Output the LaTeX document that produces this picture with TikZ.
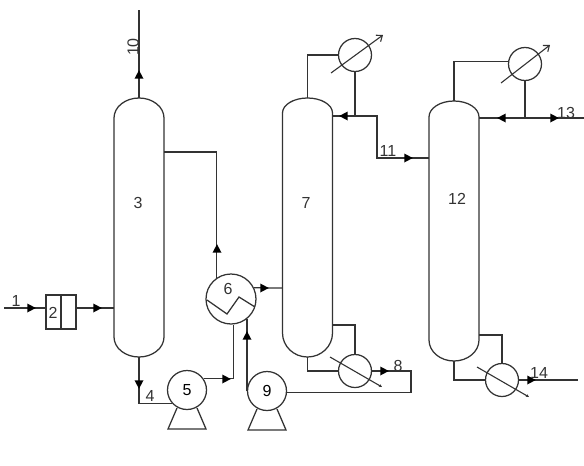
\documentclass[tikz,border=0pt]{standalone}
\usepackage{fontspec}
\setmainfont{Liberation Sans}
\usetikzlibrary{arrows.meta,shapes.geometric}
\definecolor{cL}{HTML}{333333}
\tikzset{
  pipe/.style={draw=cL,line width=1.25pt},
  vessel/.style={circle,draw=cL,line width=1.25pt,fill=none,inner sep=0pt,minimum size=#1,font=\numfont},
  flowtip/.style={isosceles triangle,isosceles triangle stretches=true,fill=black,inner sep=0pt,
                  minimum width=9pt,minimum height=8.5pt},
  tag/.style={inner sep=0pt,text=cL,font=\numfont},
  slash/.style={pipe,line width=1.1pt,-{Straight Barb[length=5pt,width=8pt]}},
  slashdown/.style={pipe,line width=1.1pt,-{Stealth[length=3pt,width=3pt]}},
}
\newcommand\numfont{\fontsize{16}{18}\selectfont}
\begin{document}
\begin{tikzpicture}[x=1pt,y=-1pt]
  \useasboundingbox (0,0) rectangle (584,466);
  % columns
  \foreach \nm/\xc/\yt/\yb/\ys/\yd in {c3/139/98/357/118/337,c7/307.5/98/357/113/333,c12/454/101/361/117/340}{
     \draw[pipe] (\xc-25,\ys) arc[start angle=180,end angle=360,x radius=25,y radius=\ys-\yt]
        -- (\xc+25,\yd) arc[start angle=0,end angle=180,x radius=25,y radius=\yb-\yd] -- cycle;
     \coordinate (\nm n) at (\xc,\yt);
     \coordinate (\nm s) at (\xc,\yb);
  }
  % exchangers and pumps
  \node[vessel=50pt] (hx6) at (231,299){};
  \node[vessel=33pt] (cond7) at (355,55){};
  \node[vessel=33pt] (cond12) at (525,64){};
  \node[vessel=33pt] (reb7) at (355,371){};
  \node[vessel=33pt] (reb12) at (502,380){};
  \node[vessel=39pt] (p5) at (187,390){5};
  \node[vessel=39pt] (p9) at (267,391){9};
  \foreach \p in {p5,p9}{
     \draw[pipe] (\p) ++(-10,18) -- ++(-9,21) -- ++(38,0) -- ++(-9,-21);
  }
  \draw[pipe] (207,300) -- (227,314) -- (239,297) -- (255,307);
  \draw[slash] (cond7) ++(-24,18) -- ++(52,-38);
  \draw[slash] (cond12) ++(-24,19) -- ++(49,-38);
  \draw[slashdown] (reb7) ++(-25,-14) -- ++(52,30);
  \draw[slashdown] (reb12) ++(-25,-13) -- ++(52,30);
  % mixer
  \node[draw=cL,line width=1.25pt,inner sep=0pt,minimum width=30pt,minimum height=34pt] (mix2) at (61,312){};
  \draw[pipe] (mix2.north) -- (mix2.south);
  % free ends and junctions
  \coordinate (in1) at (4,308);
  \coordinate (out10) at (139,10);
  \coordinate (out13) at (584,118);
  \coordinate (out14) at (578,380);
  \coordinate (c3feed) at (114,308);
  \coordinate (c3side) at (164,152);
  \coordinate (c7feed) at (282,288);
  \coordinate (c7back) at (333,116);
  \coordinate (c7low) at (333,325);
  \coordinate (c12feed) at (429,158);
  \coordinate (c12back) at (479,118);
  \coordinate (c12low) at (479,335);
  \coordinate (j11) at (377,116);
  \coordinate (j8) at (411,371);
  % streams
  \draw[pipe] (in1) -- (mix2.west |- in1);
  \draw[pipe] (mix2.east |- c3feed) -- (c3feed);
  \draw[pipe] (c3n) -- (out10);
  \draw[pipe] (c3s) |- (p5.222);
  \draw[pipe] (p5.34) -| (hx6.-85);
  \draw[pipe] (c3side) -| (hx6.124);
  \draw[pipe] (hx6.26) -- (c7feed);
  \draw[pipe] (p9.west) -- (p9.west |- hx6.-53);
  \draw[pipe] (p9.-5) -| (j8) -- (reb7.east);
  \draw[pipe] (c7low) -| (reb7.north);
  \draw[pipe] (c7s) |- (reb7.west);
  \draw[pipe] (c7back) -- (j11) |- (c12feed);
  \draw[pipe] (c7back -| cond7.south) -- (cond7.south);
  \draw[pipe] (c7n) |- (cond7.west);
  \draw[pipe] (c12back) -- (out13);
  \draw[pipe] (c12back -| cond12.south) -- (cond12.south);
  \draw[pipe] (c12n) |- (cond12.172);
  \draw[pipe] (c12low) -| (reb12.north);
  \draw[pipe] (c12s) |- (reb12.west);
  \draw[pipe] (reb12.east) -- (out14);
  % flow marks
  \foreach \x/\y/\r in {30/308/0,96/308/0,139/76/90,139/383/-90,225/379/0,217/250/90,
      263/288/0,247/337/90,383/371/0,345/116/180,407/158/0,503/118/180,553/118/0,530/380/0}{
     \node[flowtip,rotate=\r] (tip\x-\y) at (\x,\y){};
  }
  % labels
  \foreach \t/\x/\y in {1/16/301,2/53/313,3/138/203,4/150/396,6/228/289,7/306/203,
      8/398/366,11/388/151,12/457/199,13/566/113,14/539/373}{
     \node[tag] (lab\t) at (\x,\y){\t};
  }
  \node[tag,rotate=90] (lab10) at (133,47){10};
\end{tikzpicture}
\end{document}
